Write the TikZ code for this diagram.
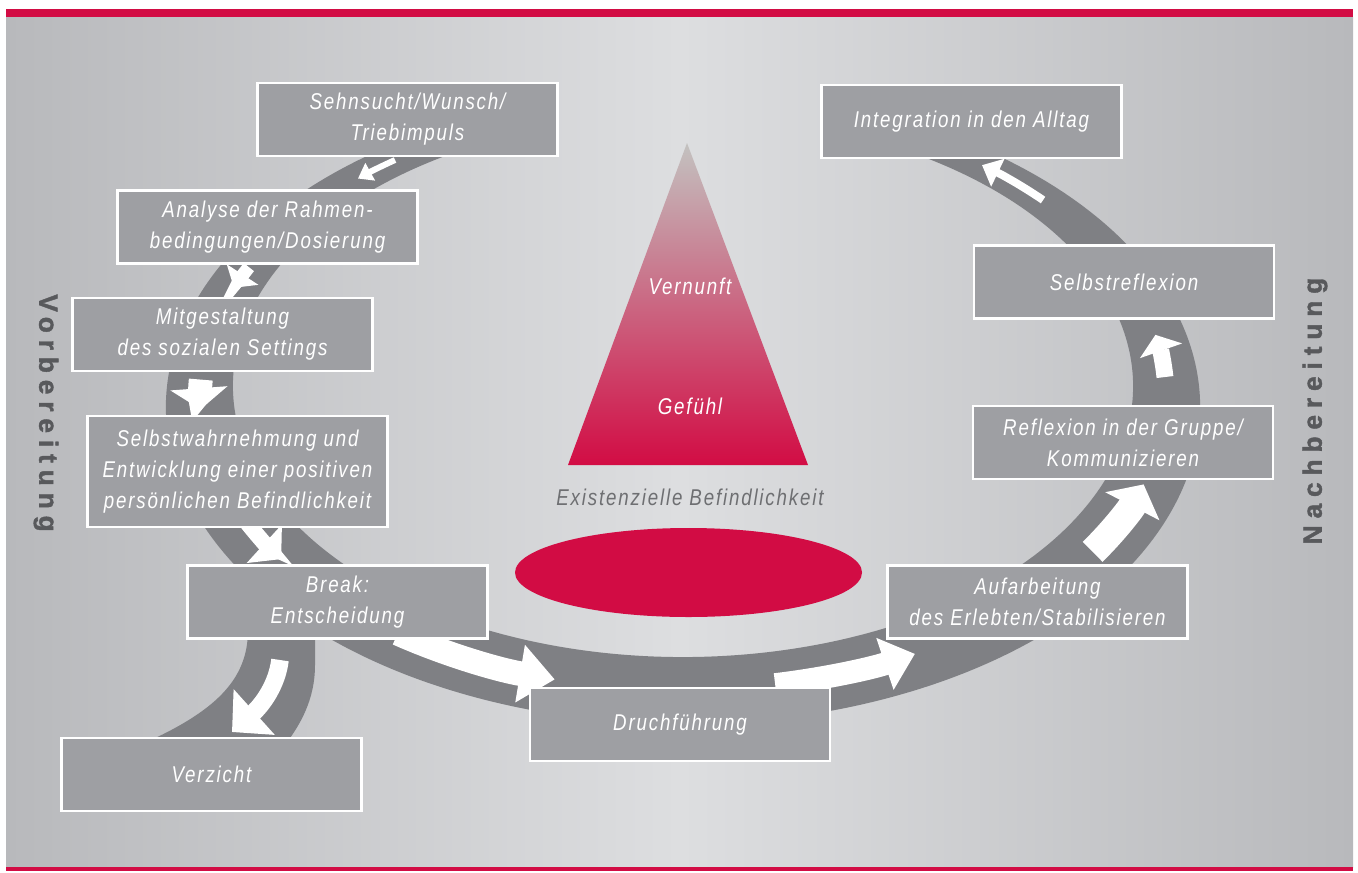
\documentclass[tikz,border=0pt]{standalone}
\usepackage{fontspec}
\setmainfont{Liberation Sans}[FakeStretch=0.82, LetterSpace=8]
\newfontfamily\sidefont{Liberation Sans Bold}[LetterSpace=26, FakeBold=1.5]
\usepackage{tikz}
\usetikzlibrary{arrows.meta}
\usetikzlibrary{calc}
\definecolor{mred}{RGB}{210, 12, 68}
\definecolor{mbox}{RGB}{158, 159, 163}
\definecolor{mband}{RGB}{127, 128, 132}
\definecolor{mbgdark}{RGB}{184, 185, 188}
\definecolor{mbglight}{RGB}{221, 222, 224}
\definecolor{mtext}{RGB}{110, 111, 114}
\definecolor{mside}{RGB}{88, 89, 92}
\definecolor{mtop}{RGB}{195, 194, 192}
\tikzset{stepbox/.style = {draw=white, line width=1.2pt, fill=mbox, text=white,
                           minimum width=6cm, minimum height=1.46cm, inner sep=0,
                           align=center, font=\fontsize{13}{17.6}\selectfont\itshape}}
\tikzset{flow/.style n args = {3}{draw=white, line width=#1,
                                  -{Triangle[width=#2, length=#3]}}}
\tikzset{sidelabel/.style = {text=mside, font=\sidefont\fontsize{15}{15}\selectfont}}
\tikzset{midlabel/.style = {font=\fontsize{13}{17.6}\selectfont\itshape}}

\begin{document}
\begin{tikzpicture}[x=0.02cm, y=-0.02cm]
    \useasboundingbox (0,0) rectangle (1358,872);
    \shade [left color=mbgdark, right color=mbgdark, middle color=mbglight] (6,17) rectangle (1353,867);
    \fill [mred] (6,9) rectangle (1353,17);
    \fill [mred] (6,867) rectangle (1353,871);

    \coordinate (oc) at (683,407);
    \coordinate (ic) at (683,386);
    \coordinate (mc) at (683,396);

    \fill [mband] ([shift={(247:517 and 317)}]oc)
      arc [start angle=247, end angle=-67.6, x radius=517, y radius=317]
      -- ([shift={(-64:450 and 271)}]ic)
      arc [start angle=-64, end angle=243.2, x radius=450, y radius=271] -- cycle;

    \fill [mband] (248,630) .. controls (248,680) and (215,712) .. (140,745)
      -- (285,745) .. controls (300,725) and (315,700) .. (315,665) -- (315,630) -- cycle;

    \draw [flow={3.4pt}{11pt}{8pt}] ([shift={(233.4:483 and 294)}]mc)
      arc [start angle=233.4, end angle=227.7, x radius=483, y radius=294];
    \draw [flow={7.4pt}{21pt}{9pt}] ([shift={(206:483 and 294)}]mc)
      arc [start angle=206, end angle=201.6, x radius=483, y radius=294];
    \draw [flow={13.6pt}{32pt}{12pt}] ([shift={(183.2:483 and 294)}]mc)
      arc [start angle=183.2, end angle=177.4, x radius=483, y radius=294];
    \draw [flow={9pt}{29pt}{13pt}] ([shift={(155:483 and 294)}]mc)
      arc [start angle=155, end angle=146.3, x radius=483, y radius=294];
    \draw [flow={14pt}{32pt}{20pt}] ([shift={(126.2:483 and 294)}]mc)
      arc [start angle=126.2, end angle=105.4, x radius=483, y radius=294];
    \draw [flow={13pt}{30pt}{18pt}] ([shift={(79:483 and 294)}]mc)
      arc [start angle=79, end angle=61.3, x radius=483, y radius=294];
    \draw [flow={16pt}{34pt}{14pt}] ([shift={(32:483 and 294)}]mc)
      arc [start angle=32, end angle=17.5, x radius=483, y radius=294];
    \draw [flow={9.6pt}{25pt}{9.6pt}] ([shift={(-3.7:483 and 294)}]mc)
      arc [start angle=-3.7, end angle=-12, x radius=483, y radius=294];
    \draw [flow={4.5pt}{17pt}{10pt}] ([shift={(-41.8:483 and 294)}]mc)
      arc [start angle=-41.8, end angle=-51.75, x radius=483, y radius=294];
    \draw [flow={10pt}{34pt}{17pt}] (280,660) .. controls (277,685) and (262,705) .. (232,732);

    \node [stepbox] (sehn) at (407.5,119.5) {Sehnsucht/Wunsch/\\Triebimpuls};
    \node [stepbox] (analyse) at (267.5,227) {Analyse der Rahmen-\\bedingungen/Dosierung};
    \node [stepbox] (mitgest) at (222.5,334.5) {Mitgestaltung\\des sozialen Settings};
    \node [stepbox, minimum height=2.22cm] (selbstw) at (237.5,471.5)
      {Selbstwahrnehmung und\\Entwicklung einer positiven\\persönlichen Befindlichkeit};
    \node [stepbox] (break) at (337.5,602) {Break:\\Entscheidung};
    \node [stepbox] (verzicht) at (211.5,774.5) {Verzicht};
    \node [stepbox] (durch) at (680,724.5) {Druchführung};
    \node [stepbox] (aufarb) at (1037.5,602) {Aufarbeitung\\des Erlebten/Stabilisieren};
    \node [stepbox] (reflex) at (1123,442.5) {Reflexion in der Gruppe/\\Kommunizieren};
    \node [stepbox] (selbstr) at (1124,282) {Selbstreflexion};
    \node [stepbox] (integ) at (971.5,121.5) {Integration in den Alltag};

    \shade [top color=mtop, bottom color=mred] (687,143) -- (808,465) -- (568,465) -- cycle;
    \fill [mred] (688.5,572.5) ellipse [x radius=173.5, y radius=44.5];

    \node [midlabel, text=white] (vernunft) at (690,286) {Vernunft};
    \node [midlabel, text=white] (gefuehl) at (690,406) {Gefühl};
    \node [midlabel, text=mtext] (exist) at (690,497) {Existenzielle Befindlichkeit};

    \node [sidelabel, rotate=-90] (vorb) at (46,413) {Vorbereitung};
    \node [sidelabel, rotate=90] (nachb) at (1315,411) {Nachbereitung};
\end{tikzpicture}
\end{document}
